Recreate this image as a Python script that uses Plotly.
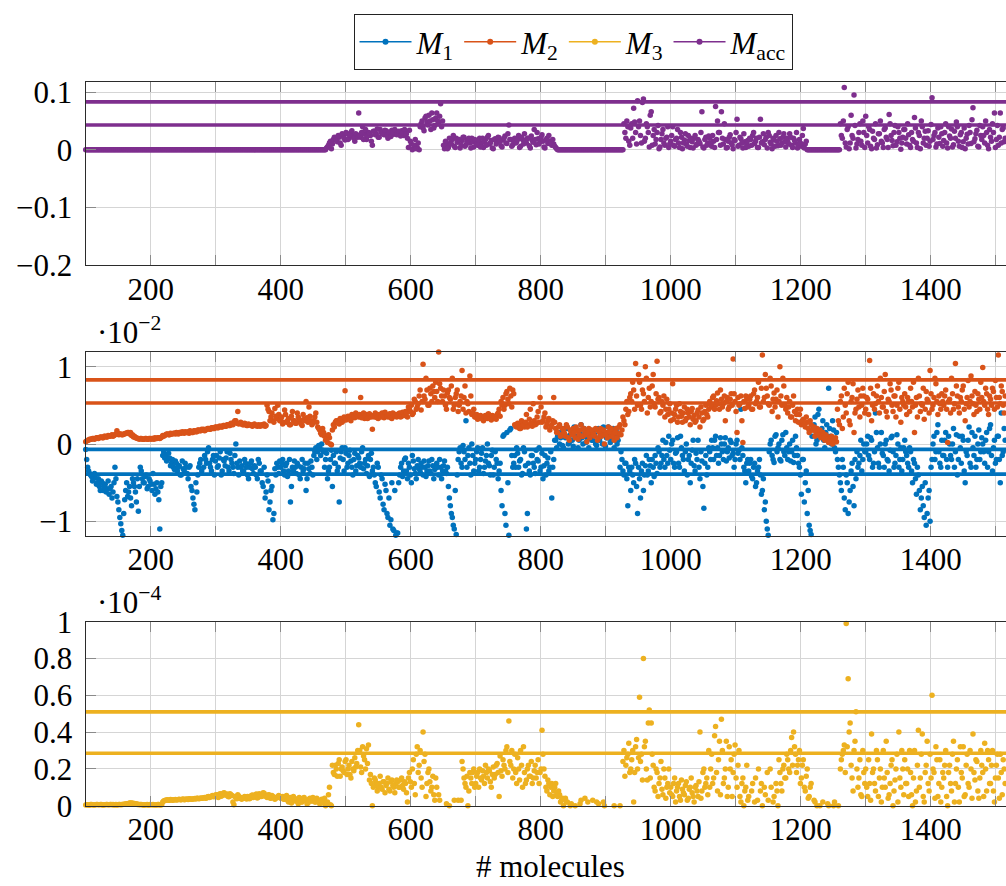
import plotly.graph_objects as go

# Molecule counts: main samples every 3 molecules from 100, a second
# interleaved sample set sits 1.5 molecules to the right.
X_START = 100
X_STEP = 3
X_OFFSET_B = 1.5

# M1 estimator error (units of 10^-2)
M1 = [
    -0.07, -0.3, -0.38, -0.42, -0.45, -0.4, -0.5, -0.55, -0.48, -0.6, -0.52, -0.58, -0.65, -0.55, -0.62, -0.3, -0.68, -0.85, -1.03, -1.18,
    -0.72, -0.5, -0.62, -0.7, -0.45, -0.55, -0.75, -0.87, -0.3, -0.45, -0.5, -0.4, -0.55, -0.48, -0.6, -0.52, -0.58, -0.62, -1.1, -0.5,
    -0.1, -0.15, -0.2, -0.18, -0.25, -0.3, -0.22, -0.35, -0.28, -0.4, -0.32, -0.25, -0.38, -0.3, -0.55, -0.7, -0.85, -0.62, -0.3, -0.2,
    -1.2, -0.15, -0.25, -0.05, -0.3, -0.2, -0.4, -0.15, -0.28, -0.1, -0.35, -0.22, -0.18, -0.3, -0.12, -0.25, -0.38, 0.0, -0.3, -0.22,
    -0.28, -0.35, -0.25, -0.4, -0.3, -0.22, -0.38, -0.3, -0.45, -0.25, -0.35, -0.55, -0.7, -0.4, -0.85, -0.6, -0.98, -0.32, -0.25, -0.38,
    -0.3, -0.2, -0.4, -0.25, -0.35, -0.75, -0.3, -0.22, -0.38, -0.28, -0.45, -0.2, -0.32, -0.6, -0.25, -0.38, -0.3, -0.15, -0.05, -0.1,
    -0.05, 0.0, -0.1, -0.2, -0.45, -0.3, -0.08, -0.15, -0.25, -0.35, -0.75, -0.1, -0.2, -0.05, -0.3, -0.15, -0.22, -0.4, -0.12, -0.28,
    -0.18, -0.3, -0.05, -0.25, -0.38, -0.15, -0.2, -0.35, -0.4, -0.55, -0.3, -0.7, -0.45, -0.85, -0.6, -0.95, -1.05, -0.5, -1.12, -1.18,
    -1.15, -0.4, -0.25, -0.35, -0.18, -0.45, -0.3, -0.5, -0.22, -0.38, -0.28, -0.32, -0.25, -0.4, -0.3, -0.35, -0.22, -0.38, -0.28, -0.33,
    -0.25, -0.4, -0.3, -0.35, -0.22, -0.38, -0.55, -0.8, -0.95, -1.1, -1.17, -0.2, -0.05, -0.3, -0.1, 0.3, -0.15, -0.25, 0.0, -0.35,
    -0.2, -0.05, -0.3, -0.12, -0.38, -0.22, 0.0, -0.28, -0.15, -0.4, -0.1, -0.25, -0.35, -0.6, 0.1, -0.9, 0.15, -1.18, 0.2, -0.3,
    -0.15, -0.05, -0.3, -0.2, -0.38, -0.1, -1.1, -0.25, -0.4, -0.15, -0.3, -0.08, -0.22, -0.35, -0.12, -0.28, -0.4, -0.18, -0.3, -0.7,
    -0.2, 0.05, 0.1, 0.0, 0.15, -0.05, 0.08, 0.2, 0.02, 0.12, -0.03, 0.1, 0.18, 0.05, 0.25, 0.0, 0.12, 0.08, -0.05, 0.15,
    0.05, 0.12, -0.02, 0.2, 0.1, 0.0, 0.15, 0.08, 0.22, 0.02, 0.1, -0.05, 0.18, 0.05, -0.3, -0.2, -0.4, -0.25, -0.8, -0.35,
    -0.3, -0.5, -0.25, -0.9, -0.45, -0.35, -0.6, -0.28, -0.4, -0.2, -0.5, -0.3, -0.15, -0.38, -0.1, -0.25, 0.05, -0.3, -0.15, 0.1,
    -0.2, 0.05, -0.3, -0.1, -0.25, 0.1, -0.15, -0.35, 0.0, -0.2, -0.5, -0.08, -0.28, -0.12, 0.05, -0.45, -0.22, -0.83, -0.15, -0.3,
    -0.1, 0.05, -0.2, 0.1, -0.05, -0.15, 0.0, -0.2, 0.08, -0.1, -0.18, 0.02, -0.12, -0.2, 0.05, -0.08, 0.45, -0.15, -0.35, -0.25,
    -0.35, -0.2, -0.45, -0.25, -0.5, -0.3, -0.4, -0.6, -0.85, -1.0, -1.18, 0.0, -0.15, -0.24, 0.12, -0.05, -0.2, 0.05, -0.1, 0.15,
    -0.2, 0.0, -0.1, -0.24, 0.1, -0.15, -0.3, -0.65, -0.2, -0.5, -0.9, -1.05, -1.17, 0.2, 0.35, 0.05, 0.45, 0.15, 0.3, -0.05,
    0.25, 0.72, 0.1, 0.3, -0.05, 0.15, -0.3, -0.5, -0.2, -0.7, -0.4, -0.9, -0.6, -0.25, -0.8, -0.45, -0.3, -0.15, -0.35, 0.0,
    -0.1, 0.1, -0.2, 0.05, -0.25, 0.4, -0.05, -0.3, 0.15, -0.15, 0.0, -0.2, -0.35, 0.08, -0.1, -0.25, 0.12, -0.3, -0.05, -0.2,
    0.05, -0.15, -0.3, -0.1, -0.5, -0.25, -0.65, -0.4, -0.85, -0.55, -0.95, -1.05, -0.7, -1.0, -0.2, 0.1, -0.1, 0.25, -0.25, 0.05,
    -0.15, 0.15, -0.3, 0.0, -0.2, 0.2, -0.1, -0.4, 0.1, -0.25, 0.05, -0.5, -0.15, 0.22, -0.3, -0.05, 0.1, -0.2, 0.18, -0.1,
    0.0, -0.25, 0.15, -0.1, 0.25, -0.35, 0.05, -0.2, 0.1, -0.5, -0.15, 0.2, -0.3,
]
M1_B = [
    -0.2, -0.35, -0.4, -0.48, -0.38, -0.52, -0.45, -0.6, -0.5, -0.55, -0.62, -0.48, -0.58, -0.7, -0.5, -0.45, -0.75, -0.95, -1.12, -0.9,
    -0.6, -0.68, -0.55, -0.8, -0.5, -0.62, -0.45, -0.55, -0.35, -0.5, -0.42, -0.58, -0.45, -0.52, -0.38, -0.65, -0.5, -0.72, -0.55, -0.15,
    -0.18, -0.22, -0.12, -0.28, -0.2, -0.33, -0.25, -0.3, -0.4, -0.22, -0.35, -0.3, -0.45, -0.28, -0.6, -0.78, -0.5, -0.4, -0.25, -0.35,
    -0.3, -0.2, -0.1, -0.25, -0.35, -0.15, -0.22, -0.3, -0.18, -0.4, -0.2, -0.28, -0.1, -0.35, -0.2, -0.3, -0.15, -0.25, -0.4, -0.3,
    -0.35, -0.2, -0.3, -0.45, -0.25, -0.32, -0.28, -0.4, -0.2, -0.35, -0.5, -0.3, -0.62, -0.48, -0.75, -0.55, -0.9, -0.4, -0.3, -0.22,
    -0.25, -0.35, -0.28, -0.42, -0.2, -0.55, -0.35, -0.3, -0.25, -0.4, -0.3, -0.35, -0.25, -0.45, -0.32, -0.22, -0.4, -0.1, -0.2, -0.02,
    -0.15, -0.08, -0.3, -0.12, -0.35, -0.2, -0.55, -0.25, -0.1, -0.3, -0.18, -0.05, -0.35, -0.12, -0.25, -0.08, -0.3, -0.2, -0.35, -0.15,
    -0.25, -0.1, -0.32, -0.2, -0.28, -0.42, -0.12, -0.3, -0.5, -0.25, -0.62, -0.4, -0.78, -0.52, -0.9, -0.7, -0.98, -1.1, -0.6, -1.15,
    -0.5, -0.3, -0.42, -0.2, -0.35, -0.25, -0.4, -0.15, -0.32, -0.45, -0.2, -0.36, -0.3, -0.22, -0.42, -0.28, -0.35, -0.2, -0.45, -0.3,
    -0.3, -0.2, -0.45, -0.28, -0.35, -0.3, -0.7, -0.9, -1.05, -0.6, -0.4, -0.1, -0.25, -0.02, -0.2, -0.3, -0.05, -0.4, -0.15, -0.25,
    -0.1, -0.35, -0.2, -0.05, -0.3, -0.15, -0.25, -0.4, -0.08, -0.3, -0.2, -0.45, -0.25, -0.8, 0.12, -1.05, -0.5, 0.18, -0.15, -0.25,
    -0.3, -0.12, -0.22, -0.4, -0.05, -0.28, -0.9, -0.35, -0.15, -0.25, -0.38, -0.2, -0.05, -0.3, -0.45, -0.15, -0.25, -0.35, -0.1, -0.3,
    0.05, -0.05, 0.15, 0.08, -0.02, 0.2, 0.1, 0.0, 0.12, 0.05, 0.22, 0.1, -0.05, 0.15, 0.08, 0.2, 0.02, 0.1, 0.18, 0.05,
    0.1, 0.0, 0.18, 0.05, 0.12, 0.22, -0.03, 0.08, 0.15, 0.05, 0.2, 0.1, 0.0, 0.12, -0.1, -0.35, -0.25, -0.45, -0.3, -0.6,
    -0.4, -0.2, -0.55, -0.3, -0.7, -0.25, -0.4, -0.15, -0.35, -0.28, -0.2, -0.42, -0.25, -0.05, -0.3, -0.15, -0.2, 0.02, -0.25, -0.08,
    0.0, -0.25, -0.12, 0.08, -0.3, -0.05, -0.2, -0.1, -0.4, -0.15, -0.25, 0.05, -0.35, -0.2, -0.3, -0.1, -0.55, -0.25, -0.4, -0.05,
    -0.2, -0.05, 0.05, -0.15, -0.25, 0.08, -0.1, 0.0, -0.22, -0.05, 0.05, -0.15, -0.3, 0.0, -0.12, -0.2, -0.05, -0.3, -0.5, -0.2,
    -0.25, -0.42, -0.3, -0.55, -0.35, -0.2, -0.65, -0.45, -0.75, -1.1, -0.1, 0.05, -0.2, 0.1, -0.1, 0.0, -0.22, 0.12, -0.15, -0.05,
    -0.1, -0.22, 0.05, -0.15, -0.05, -0.25, -0.4, -0.2, -0.75, -0.35, -0.6, -1.12, 0.1, 0.25, 0.0, 0.38, 0.1, 0.2, 0.05, 0.15,
    0.1, 0.2, 0.0, 0.18, -0.1, -0.2, -0.4, -0.6, -0.3, -0.85, -0.5, -0.75, -0.35, -0.55, -0.2, -0.1, -0.25, 0.05, -0.2, -0.1,
    0.0, -0.15, 0.08, -0.3, -0.1, 0.15, -0.25, 0.0, -0.12, -0.3, 0.05, -0.22, -0.08, 0.1, -0.3, -0.15, 0.0, -0.2, -0.35, -0.05,
    -0.1, -0.25, -0.05, -0.35, -0.2, -0.45, -0.3, -0.6, -0.7, -0.8, -0.5, -0.9, -0.6, -0.3, 0.0, -0.2, 0.15, -0.1, -0.3, -0.15,
    0.05, -0.2, 0.1, -0.15, 0.0, -0.3, 0.12, -0.2, -0.05, 0.1, -0.35, -0.1, 0.05, -0.25, 0.15, -0.15, -0.3, 0.0, -0.2, 0.08,
    -0.1, 0.05, -0.3, 0.2, -0.15, -0.05, -0.25, 0.1, -0.2, 0.4, -0.1, 0.05,
]

# M2 estimator error (units of 10^-2)
M2 = [
    0.03, 0.05, 0.06, 0.06, 0.07, 0.07, 0.08, 0.08, 0.09, 0.08, 0.1, 0.09, 0.1, 0.11, 0.1, 0.12, 0.17, 0.12, 0.13, 0.12,
    0.13, 0.14, 0.15, 0.15, 0.12, 0.1, 0.08, 0.07, 0.07, 0.06, 0.06, 0.07, 0.06, 0.07, 0.07, 0.06, 0.07, 0.08, 0.07, 0.09,
    0.1, 0.12, 0.13, 0.12, 0.13, 0.14, 0.13, 0.14, 0.15, 0.14, 0.15, 0.16, 0.15, 0.14, 0.16, 0.15, 0.17, 0.16, 0.18, 0.17,
    0.18, 0.17, 0.19, 0.2, 0.19, 0.21, 0.2, 0.22, 0.21, 0.23, 0.22, 0.24, 0.23, 0.25, 0.24, 0.26, 0.28, 0.3, 0.42, 0.27,
    0.26, 0.25, 0.26, 0.24, 0.25, 0.24, 0.25, 0.24, 0.23, 0.24, 0.25, 0.24, 0.23, 0.5, 0.42, 0.35, 0.3, 0.46, 0.33, 0.38,
    0.3, 0.26, 0.44, 0.28, 0.33, 0.25, 0.42, 0.3, 0.27, 0.35, 0.3, 0.24, 0.32, 0.55, 0.28, 0.36, 0.25, 0.3, 0.4, 0.22,
    0.18, 0.12, 0.15, 0.05, 0.02, 0.08, -0.01, 0.25, 0.28, 0.3, 0.26, 0.32, 0.3, 0.69, 0.33, 0.35, 0.3, 0.37, 0.34, 0.38,
    0.35, 0.6, 0.36, 0.33, 0.38, 0.34, 0.37, 0.19, 0.35, 0.38, 0.33, 0.36, 0.4, 0.34, 0.37, 0.35, 0.39, 0.33, 0.36, 0.38,
    0.37, 0.4, 0.36, 0.38, 0.42, 0.35, 0.45, 0.5, 0.4, 0.55, 0.48, 0.62, 0.44, 1.03, 0.58, 0.7, 0.5, 0.65, 0.75, 0.6,
    0.68, 1.19, 0.72, 0.55, 0.62, 0.45, 0.7, 0.58, 0.85, 0.5, 0.65, 0.42, 0.55, 0.95, 0.6, 0.4, 0.52, 0.88, 0.38, 0.45,
    0.35, 0.32, 0.36, 0.34, 0.3, 0.37, 0.33, 0.35, 0.31, 0.36, 0.34, 0.38, 0.45, 0.55, 0.6, 0.5, 0.68, 0.52, 0.62, 0.7,
    0.25, 0.22, 0.26, 0.2, 0.24, 0.22, 0.38, 0.25, 0.45, 0.23, 0.3, 0.26, 0.42, 0.6, 0.28, 0.35, 0.22, 0.3, 0.18, 0.25,
    0.6, 0.2, 0.15, 0.25, 0.12, 0.18, 0.1, 0.22, 0.05, 0.15, 0.2, 0.08, 0.17, 0.12, 0.25, 0.1, 0.16, 0.03, 0.2, 0.13,
    0.15, 0.1, 0.18, 0.08, 0.2, 0.12, 0.0, 0.15, 0.22, 0.1, 0.16, 0.05, 0.2, 0.14, 0.25, 0.18, 0.3, 0.45, 0.38, 0.6,
    0.55, 0.7, 1.04, 0.5, 0.8, 0.45, 0.65, 1.0, 0.4, 0.72, 0.55, 0.9, 0.48, 1.07, 0.6, 0.42, 0.5, 0.35, 0.58, 0.45,
    0.3, 0.78, 0.38, 0.5, 0.35, 0.42, 0.28, 0.48, 0.33, 0.4, 0.25, 0.46, 0.37, 0.3, 0.44, 0.22, 0.4, 0.32, 0.5, 0.35,
    0.55, 0.48, 0.62, 0.5, 0.66, 0.45, 0.58, 0.52, 0.3, 0.6, 0.48, 0.65, 1.1, 0.55, 0.15, 0.5, 0.62, 0.02, 0.46, 0.58,
    0.5, 0.62, 0.45, 0.7, 0.55, 0.8, 0.48, 1.15, 0.6, 0.72, 0.52, 0.85, 0.42, 0.66, 0.58, 0.35, 1.0, 0.5, 0.75, 0.45,
    0.4, 0.55, 0.35, 0.62, 0.3, 0.45, 0.38, 0.25, 0.32, 0.22, 0.28, 0.15, 0.25, 0.18, 0.1, 0.2, 0.12, 0.08, 0.15, 0.05,
    0.1, 0.02, 0.07, 0.0, 0.05, 0.03, 0.3, 0.55, 0.2, 0.72, 0.4, 0.8, 0.25, 0.6, 0.15, 0.45, 0.7, 0.35, 0.5, 0.62,
    0.45, 0.58, 1.08, 0.3, 0.65, 0.52, 0.75, 0.4, 0.6, 0.48, 0.9, 0.35, 0.55, 0.7, 0.42, 0.62, 0.5, 0.8, 0.28, 0.55,
    0.65, 0.38, 0.55, 0.72, 0.48, 0.15, 0.6, 0.85, 0.42, 0.5, 0.32, 0.68, 0.55, 0.95, 0.45, 0.6, 0.78, 0.38, 0.52, 0.65,
    0.5, 0.7, 0.02, 0.58, 0.85, 0.45, 1.04, 0.62, 0.4, 0.55, 0.75, 0.3, 0.6, 0.48, 0.88, 0.52, 0.68, 0.42, 0.58, 0.8,
    0.99, 0.5, 0.65, 0.38, 0.58, 0.72, 0.45, 0.6, 1.15, 0.52, 0.68, 0.4, 0.55,
]
M2_B = [
    0.04, 0.05, 0.06, 0.07, 0.06, 0.08, 0.07, 0.09, 0.08, 0.1, 0.09, 0.11, 0.1, 0.12, 0.11, 0.13, 0.14, 0.13, 0.12, 0.13,
    0.14, 0.15, 0.13, 0.11, 0.09, 0.08, 0.07, 0.06, 0.07, 0.06, 0.07, 0.06, 0.07, 0.06, 0.07, 0.08, 0.07, 0.08, 0.08, 0.11,
    0.11, 0.13, 0.12, 0.14, 0.13, 0.14, 0.15, 0.13, 0.15, 0.16, 0.14, 0.15, 0.16, 0.17, 0.15, 0.17, 0.16, 0.18, 0.17, 0.19,
    0.19, 0.18, 0.2, 0.19, 0.21, 0.2, 0.22, 0.21, 0.23, 0.22, 0.24, 0.23, 0.25, 0.24, 0.27, 0.25, 0.3, 0.27, 0.26, 0.28,
    0.25, 0.27, 0.24, 0.26, 0.25, 0.23, 0.26, 0.24, 0.25, 0.23, 0.24, 0.26, 0.24, 0.45, 0.3, 0.4, 0.28, 0.36, 0.5, 0.3,
    0.35, 0.28, 0.38, 0.3, 0.25, 0.36, 0.3, 0.27, 0.4, 0.32, 0.26, 0.38, 0.3, 0.34, 0.48, 0.3, 0.27, 0.35, 0.28, 0.2,
    0.14, 0.2, 0.1, 0.06, 0.12, 0.0, 0.18, 0.22, 0.3, 0.27, 0.33, 0.28, 0.35, 0.31, 0.36, 0.32, 0.38, 0.35, 0.4, 0.36,
    0.38, 0.34, 0.4, 0.36, 0.33, 0.39, 0.35, 0.37, 0.4, 0.34, 0.38, 0.35, 0.37, 0.41, 0.36, 0.38, 0.34, 0.4, 0.37, 0.35,
    0.39, 0.35, 0.41, 0.37, 0.4, 0.48, 0.42, 0.38, 0.58, 0.45, 0.52, 0.7, 0.55, 0.62, 0.85, 0.5, 0.72, 0.55, 0.68, 0.8,
    0.55, 0.78, 0.62, 0.7, 0.5, 0.66, 0.6, 0.75, 0.45, 0.6, 0.7, 0.5, 0.62, 0.45, 0.75, 0.55, 0.42, 0.62, 0.4, 0.35,
    0.38, 0.34, 0.37, 0.32, 0.36, 0.34, 0.39, 0.33, 0.37, 0.35, 0.32, 0.4, 0.36, 0.5, 0.45, 0.65, 0.58, 0.72, 0.48, 0.65,
    0.23, 0.27, 0.2, 0.3, 0.25, 0.28, 0.22, 0.32, 0.27, 0.52, 0.25, 0.35, 0.28, 0.48, 0.3, 0.4, 0.26, 0.33, 0.22, 0.3,
    0.28, 0.15, 0.22, 0.1, 0.2, 0.14, 0.25, 0.08, 0.18, 0.12, 0.15, 0.22, 0.06, 0.18, 0.1, 0.2, 0.12, 0.15, 0.08, 0.18,
    0.12, 0.2, 0.05, 0.15, 0.1, 0.18, 0.12, 0.08, 0.16, 0.2, 0.1, 0.15, 0.08, 0.22, 0.12, 0.35, 0.25, 0.55, 0.42, 0.65,
    0.8, 0.45, 0.62, 0.9, 0.5, 0.7, 0.55, 0.85, 0.6, 0.48, 0.75, 0.52, 0.65, 0.58, 0.4, 0.55, 0.62, 0.45, 0.38, 0.52,
    0.4, 0.32, 0.45, 0.28, 0.52, 0.36, 0.4, 0.3, 0.45, 0.35, 0.42, 0.32, 0.28, 0.4, 0.35, 0.48, 0.3, 0.42, 0.38, 0.45,
    0.5, 0.6, 0.45, 0.56, 0.52, 0.7, 0.48, 0.62, 0.55, 0.45, 0.58, 0.5, 0.65, 0.42, 0.6, 0.52, 0.3, 0.55, 0.62, 0.48,
    0.58, 0.45, 0.65, 0.52, 0.6, 0.48, 0.72, 0.55, 0.9, 0.62, 0.5, 0.75, 0.58, 0.48, 0.7, 0.55, 0.62, 0.85, 0.5, 0.6,
    0.48, 0.35, 0.5, 0.42, 0.38, 0.28, 0.45, 0.3, 0.25, 0.35, 0.2, 0.3, 0.18, 0.22, 0.15, 0.12, 0.18, 0.1, 0.08, 0.12,
    0.06, 0.04, 0.1, 0.02, 0.08, 0.45, 0.25, 0.62, 0.35, 0.5, 0.65, 0.3, 0.55, 0.78, 0.4, 0.58, 0.48, 0.62, 0.72, 0.4,
    0.6, 0.38, 0.72, 0.5, 0.45, 0.62, 0.55, 0.85, 0.48, 0.68, 0.42, 0.58, 0.78, 0.5, 0.62, 0.35, 0.72, 0.45, 0.6, 0.5,
    0.48, 0.6, 0.42, 0.55, 0.8, 0.5, 0.35, 0.62, 0.52, 0.72, 0.45, 0.58, 0.4, 0.65, 0.5, 0.85, 0.55, 0.62, 0.45, 0.55,
    0.62, 0.45, 0.55, 0.4, 0.65, 0.52, 0.75, 0.48, 0.6, 0.7, 0.45, 0.52, 0.82, 0.55, 0.62, 0.38, 0.5, 0.65, 0.45, 0.6,
    0.55, 0.72, 0.45, 0.62, 0.5, 0.68, 0.82, 0.48, 0.6, 0.75, 0.5, 0.62,
]

# M3 estimator error (units of 10^-4); None where no estimate is shown
M3 = [
    0.004, 0.005, 0.003, 0.006, 0.004, 0.005, 0.007, 0.005, 0.006, 0.004, 0.005, 0.006, 0.005, 0.007, 0.006, 0.005, 0.004, 0.006, 0.005, 0.007,
    0.008, 0.01, 0.012, 0.015, 0.014, 0.012, 0.01, 0.008, 0.006, 0.005, 0.004, 0.005, 0.004, 0.006, 0.005, 0.004, 0.005, 0.006, 0.004, 0.005,
    0.025, 0.03, 0.032, 0.03, 0.033, 0.031, 0.034, 0.032, 0.035, 0.033, 0.036, 0.034, 0.035, 0.038, 0.036, 0.037, 0.039, 0.04, 0.038, 0.042,
    0.04, 0.045, 0.042, 0.05, 0.047, 0.055, 0.05, 0.06, 0.045, 0.065, 0.055, 0.07, 0.06, 0.05, 0.065, 0.055, 0.005, 0.045, 0.06, 0.04,
    0.035, 0.045, 0.04, 0.05, 0.038, 0.055, 0.045, 0.06, 0.042, 0.065, 0.05, 0.07, 0.055, 0.045, 0.06, 0.04, 0.05, 0.035, 0.045, 0.055,
    0.04, 0.05, 0.035, 0.055, 0.02, 0.045, 0.03, 0.04, 0.025, 0.01, 0.035, 0.02, 0.045, 0.03, 0.015, 0.04, 0.025, 0.035, 0.02, 0.03,
    0.01, 0.035, 0.02, 0.0, 0.02, 0.1, 0.0, 0.18, 0.22, 0.16, 0.25, 0.2, 0.19, 0.24, 0.17, 0.22, 0.15, 0.2, 0.26, 0.23,
    0.44, 0.21, 0.32, 0.25, 0.31, 0.33, 0.17, 0.0, 0.15, 0.12, 0.1, 0.16, 0.09, 0.13, 0.11, 0.15, 0.08, 0.14, 0.1, 0.12,
    0.13, 0.1, 0.15, 0.09, 0.12, 0.02, 0.18, 0.1, 0.25, 0.06, 0.32, 0.22, 0.15, 0.4, 0.28, 0.12, 0.2, 0.08, 0.16, 0.03,
    0.1, 0.06, None, None, None, 0.01, None, None, None, 0.03, None, 0.03, None, 0.24, 0.15, 0.1, 0.0, 0.18, 0.12, 0.2,
    0.12, 0.18, 0.2, 0.14, 0.16, 0.22, 0.15, 0.19, 0.1, 0.21, 0.17, 0.23, 0.05, 0.19, 0.25, 0.2, 0.32, 0.46, 0.22, 0.15,
    0.28, 0.12, 0.2, 0.3, 0.1, 0.18, 0.14, 0.22, 0.16, 0.12, 0.19, 0.15, 0.25, 0.18, 0.41, 0.2, 0.1, 0.14, 0.06, 0.12,
    0.08, 0.12, 0.05, 0.06, 0.03, 0.0, 0.04, 0.02, None, 0.01, None, 0.0, None, None, 0.03, None, 0.04, None, None, None,
    0.03, None, 0.02, 0.01, None, None, 0.0, None, None, None, None, 0.0, None, None, 0.0, None, 0.3, 0.22, 0.28, 0.18,
    0.25, 0.02, 0.32, 0.2, 0.59, 0.28, 0.8, 0.35, 0.14, 0.52, 0.45, 0.22, 0.08, 0.18, 0.12, 0.24, 0.06, 0.15, 0.1, 0.2,
    0.1, 0.05, 0.15, 0.08, 0.12, 0.03, 0.09, 0.06, 0.13, 0.04, 0.1, 0.07, 0.02, 0.11, 0.05, 0.4, 0.08, 0.2, 0.12, 0.06,
    0.1, 0.28, 0.15, 0.43, 0.08, 0.35, 0.47, 0.12, 0.2, 0.05, 0.32, 0.25, 0.18, 0.33, 0.1, 0.3, 0.02, 0.15, 0.08, 0.22,
    0.05, None, 0.12, 0.02, None, 0.2, 0.08, 0.0, 0.1, None, 0.03, 0.2, None, 0.05, 0.12, 0.0, 0.18, 0.08, 0.22, 0.15,
    0.25, 0.18, 0.37, 0.4, 0.28, 0.22, 0.3, 0.15, 0.25, 0.08, 0.2, 0.05, 0.12, None, 0.02, 0.0, None, None, 0.02, None,
    None, 0.0, None, None, 0.02, None, 0.0, 0.2, 0.28, 0.33, 0.99, 0.69, 0.45, 0.15, 0.3, 0.51, 0.1, 0.25, 0.05, 0.18,
    0.2, 0.05, 0.12, 0.39, 0.2, 0.08, 0.25, 0.15, 0.02, 0.3, 0.1, 0.18, 0.06, 0.22, 0.0, 0.14, 0.28, 0.4, 0.1, 0.2,
    0.25, 0.12, 0.05, 0.18, 0.0, 0.3, 0.08, 0.41, 0.15, 0.39, 0.02, 0.22, 0.12, 0.28, 0.6, 0.18, 0.32, 0.05, 0.25, 0.1,
    0.15, 0.3, 0.0, 0.22, 0.08, 0.35, 0.12, 0.25, 0.02, 0.18, 0.32, 0.06, 0.28, 0.1, 0.2, 0.39, 0.14, 0.24, 0.04, 0.3,
    0.18, 0.34, 0.08, 0.25, 0.12, 0.3, 0.02, 0.22, 0.15, 0.28, 0.06, 0.2, 0.1,
]
M3_B = [
    0.005, 0.004, 0.006, 0.005, 0.004, 0.006, 0.005, 0.006, 0.004, 0.005, 0.007, 0.005, 0.006, 0.005, 0.004, 0.006, 0.005, 0.007, 0.006, 0.008,
    0.009, 0.011, 0.014, 0.013, 0.011, 0.009, 0.007, 0.005, 0.006, 0.004, 0.005, 0.006, 0.004, 0.005, 0.006, 0.005, 0.004, 0.006, 0.005, 0.02,
    0.028, 0.031, 0.03, 0.034, 0.03, 0.033, 0.031, 0.034, 0.032, 0.035, 0.033, 0.036, 0.034, 0.037, 0.035, 0.038, 0.036, 0.04, 0.039, 0.041,
    0.043, 0.04, 0.048, 0.044, 0.052, 0.048, 0.058, 0.05, 0.062, 0.052, 0.068, 0.058, 0.064, 0.048, 0.06, 0.02, 0.05, 0.038, 0.052, 0.045,
    0.04, 0.05, 0.036, 0.048, 0.042, 0.058, 0.05, 0.064, 0.046, 0.06, 0.052, 0.068, 0.05, 0.058, 0.042, 0.055, 0.045, 0.04, 0.05, 0.045,
    0.045, 0.035, 0.05, 0.03, 0.04, 0.015, 0.05, 0.025, 0.035, 0.045, 0.02, 0.04, 0.03, 0.01, 0.035, 0.025, 0.045, 0.02, 0.04, 0.025,
    0.03, 0.015, 0.04, 0.01, 0.06, 0.005, 0.22, 0.17, 0.2, 0.23, 0.16, 0.21, 0.18, 0.25, 0.2, 0.17, 0.24, 0.19, 0.21, 0.3,
    0.3, 0.18, 0.27, 0.2, 0.23, 0.14, 0.12, 0.1, 0.14, 0.08, 0.12, 0.1, 0.13, 0.07, 0.12, 0.09, 0.13, 0.11, 0.07, 0.14,
    0.1, 0.14, 0.11, 0.13, 0.07, 0.15, 0.13, 0.2, 0.12, 0.28, 0.18, 0.3, 0.1, 0.24, 0.05, 0.18, 0.13, 0.1, 0.06, 0.15,
    None, 0.03, None, None, None, None, 0.0, None, None, None, None, None, 0.03, 0.2, 0.12, 0.16, 0.08, 0.15, 0.18, 0.1,
    0.16, 0.1, 0.15, 0.19, 0.12, 0.18, 0.2, 0.13, 0.17, 0.15, 0.22, 0.18, 0.27, 0.16, 0.22, 0.3, 0.18, 0.24, 0.3, 0.2,
    0.18, 0.26, 0.14, 0.22, 0.32, 0.12, 0.2, 0.16, 0.24, 0.15, 0.22, 0.18, 0.12, 0.2, 0.28, 0.16, 0.08, 0.12, 0.1, 0.05,
    0.1, 0.06, 0.08, 0.02, 0.04, None, 0.02, None, 0.0, None, None, None, None, 0.01, None, None, None, 0.02, None, None,
    None, None, None, None, None, 0.02, None, None, None, None, None, None, None, None, None, 0.24, 0.16, 0.26, 0.34, 0.2,
    0.3, 0.18, 0.36, 0.26, 0.24, 0.14, 0.32, 0.2, 0.45, 0.15, 0.28, 0.1, 0.2, 0.05, 0.15, 0.09, 0.2, 0.04, 0.12, 0.07,
    0.06, 0.12, 0.02, 0.1, 0.05, 0.14, 0.07, 0.11, 0.03, 0.09, 0.15, 0.05, 0.1, 0.08, 0.13, 0.04, 0.18, 0.1, 0.15, 0.3,
    0.2, 0.12, 0.38, 0.18, 0.25, 0.06, 0.3, 0.15, 0.35, 0.1, 0.2, 0.05, 0.28, 0.15, 0.22, 0.05, 0.12, 0.0, 0.1, 0.03,
    None, 0.08, None, 0.15, 0.03, None, 0.12, None, 0.06, 0.18, None, 0.1, 0.02, None, 0.08, 0.25, 0.12, 0.2, 0.15, 0.28,
    0.2, 0.3, 0.22, 0.32, 0.18, 0.25, 0.12, 0.22, 0.1, 0.16, 0.04, 0.1, None, 0.03, None, None, 0.0, None, None, None,
    0.01, None, None, 0.0, None, None, None, 0.25, 0.3, 0.18, 0.32, 0.4, 0.22, 0.08, 0.35, 0.2, 0.15, 0.06, 0.3, 0.12,
    0.1, 0.25, 0.03, 0.18, 0.12, 0.3, 0.05, 0.2, 0.1, 0.15, 0.35, 0.04, 0.12, 0.25, 0.08, 0.2, 0.02, 0.15, 0.3, 0.06,
    0.12, 0.2, 0.3, 0.06, 0.15, 0.02, 0.22, 0.1, 0.28, 0.05, 0.18, 0.35, 0.08, 0.15, 0.2, 0.04, 0.25, 0.12, 0.02, 0.18,
    0.22, 0.05, 0.18, 0.12, 0.28, 0.02, 0.2, 0.1, 0.32, 0.15, 0.05, 0.22, 0.12, 0.3, 0.04, 0.18, 0.25, 0.08, 0.15, 0.22,
    0.05, 0.2, 0.3, 0.12, 0.22, 0.08, 0.15, 0.28, 0.04, 0.18, 0.25, 0.12,
]

# Accumulated estimator error
M_ACC = [
    0, 0, 0, 0, 0, 0, 0, 0, 0, 0, 0, 0, 0, 0, 0, 0, 0, 0, 0, 0,
    0, 0, 0, 0, 0, 0, 0, 0, 0, 0, 0, 0, 0, 0, 0, 0, 0, 0, 0, 0,
    0, 0, 0, 0, 0, 0, 0, 0, 0, 0, 0, 0, 0, 0, 0, 0, 0, 0, 0, 0,
    0, 0, 0, 0, 0, 0, 0, 0, 0, 0, 0, 0, 0, 0, 0, 0, 0, 0, 0, 0,
    0, 0, 0, 0, 0, 0, 0, 0, 0, 0, 0, 0, 0, 0, 0, 0, 0, 0, 0, 0,
    0, 0, 0, 0, 0, 0, 0, 0, 0, 0, 0, 0, 0, 0, 0, 0, 0, 0, 0, 0,
    0, 0, 0, 0, 0.005, 0.012, 0.002, 0.018, 0.02, 0.014, 0.022, 0.008, 0.025, 0.017, 0.028, 0.02, 0.03, 0.024, 0.015, 0.026,
    0.064, 0.022, 0.04, 0.027, 0.018, 0.03, 0.025, 0.008, 0.032, 0.028, 0.022, 0.035, 0.03, 0.026, 0.033, 0.02, 0.029, 0.034, 0.027, 0.031,
    0.03, 0.027, 0.033, 0.025, 0.031, 0.02, 0.034, 0.01, 0.002, 0.018, 0.004, 0.0, 0.045, 0.038, 0.055, 0.048, 0.06, 0.035, 0.052, 0.042,
    0.064, 0.045, 0.08, 0.05, 0.002, 0.01, 0.004, 0.012, 0.018, 0.006, 0.02, 0.014, 0.003, 0.016, 0.022, 0.009, 0.017, 0.012, 0.02, 0.005,
    0.015, 0.008, 0.02, 0.012, 0.004, 0.018, 0.022, 0.01, 0.016, 0.002, 0.019, 0.013, 0.021, 0.007, 0.017, 0.024, 0.011, 0.043, 0.018, 0.009,
    0.02, 0.014, 0.025, 0.006, 0.018, 0.028, 0.012, 0.02, 0.003, 0.016, 0.035, 0.009, 0.019, 0.014, 0.026, 0.005, 0.017, 0.011, 0.015, 0.008,
    0.01, 0.004, 0, 0, 0, 0, 0, 0, 0, 0, 0, 0, 0, 0, 0, 0, 0, 0, 0, 0,
    0, 0, 0, 0, 0, 0, 0, 0, 0, 0, 0, 0, 0, 0, 0, 0, 0.045, 0.02, 0.04, 0.008,
    0.045, 0.072, 0.03, 0.085, 0.05, 0.012, 0.088, 0.02, 0.04, 0.005, 0.066, 0.025, 0.01, 0.03, 0.002, 0.018, 0.035, 0.008, 0.022, 0.004,
    0.015, 0.04, 0.006, 0.02, 0.012, 0.03, 0.002, 0.017, 0.01, 0.025, 0.004, 0.014, 0.02, 0.008, 0.018, 0.011, 0.066, 0.003, 0.022, 0.012,
    0.02, 0.006, 0.015, 0.075, 0.05, 0.03, 0.066, 0.01, 0.018, 0.004, 0.022, 0.012, 0.002, 0.016, 0.053, 0.008, 0.019, 0.003, 0.014, 0.01,
    0.006, 0.018, 0.025, 0.011, 0.02, 0.004, 0.053, 0.014, 0.009, 0.022, 0.03, 0.013, 0.002, 0.017, 0.025, 0.007, 0.019, 0.012, 0.028, 0.005,
    0.015, 0.028, 0.008, 0.02, 0.012, 0.003, 0.018, 0.006, 0.037, 0.01, 0, 0, 0, 0, 0, 0, 0, 0, 0, 0,
    0, 0, 0, 0, 0, 0, 0, 0.045, 0.02, 0.108, 0.005, 0.04, 0.012, 0.025, 0.095, 0.003, 0.018, 0.045, 0.008, 0.03,
    0.058, 0.012, 0.035, 0.002, 0.02, 0.045, 0.009, 0.028, 0.015, 0.004, 0.038, 0.018, 0.061, 0.025, 0.007, 0.042, 0.014, 0.03, 0.001, 0.022,
    0.035, 0.01, 0.026, 0.004, 0.018, 0.056, 0.012, 0.03, 0.002, 0.04, 0.02, 0.008, 0.033, 0.015, 0.09, 0.025, 0.005, 0.038, 0.011, 0.028,
    0.016, 0.045, 0.003, 0.024, 0.036, 0.009, 0.02, 0.04, 0.006, 0.03, 0.014, 0.002, 0.027, 0.042, 0.011, 0.073, 0.019, 0.034, 0.005, 0.025,
    0.04, 0.012, 0.03, 0.002, 0.022, 0.045, 0.064, 0.018, 0.008, 0.064, 0.035, 0.014, 0.05,
]
M_ACC_B = [
    0, 0, 0, 0, 0, 0, 0, 0, 0, 0, 0, 0, 0, 0, 0, 0, 0, 0, 0, 0,
    0, 0, 0, 0, 0, 0, 0, 0, 0, 0, 0, 0, 0, 0, 0, 0, 0, 0, 0, 0,
    0, 0, 0, 0, 0, 0, 0, 0, 0, 0, 0, 0, 0, 0, 0, 0, 0, 0, 0, 0,
    0, 0, 0, 0, 0, 0, 0, 0, 0, 0, 0, 0, 0, 0, 0, 0, 0, 0, 0, 0,
    0, 0, 0, 0, 0, 0, 0, 0, 0, 0, 0, 0, 0, 0, 0, 0, 0, 0, 0, 0,
    0, 0, 0, 0, 0, 0, 0, 0, 0, 0, 0, 0, 0, 0, 0, 0, 0, 0, 0, 0,
    0, 0, 0, 0.003, 0.008, 0.015, 0.01, 0.022, 0.016, 0.025, 0.012, 0.028, 0.02, 0.03, 0.018, 0.026, 0.033, 0.02, 0.028, 0.022,
    0.025, 0.03, 0.018, 0.035, 0.024, 0.029, 0.015, 0.032, 0.026, 0.036, 0.022, 0.03, 0.028, 0.034, 0.025, 0.031, 0.023, 0.03, 0.035, 0.026,
    0.032, 0.024, 0.029, 0.035, 0.028, 0.004, 0.015, 0.0, 0.008, 0.002, 0.012, 0.04, 0.05, 0.033, 0.058, 0.043, 0.05, 0.064, 0.038, 0.055,
    0.05, 0.058, 0.04, 0.008, 0.015, 0.002, 0.02, 0.01, 0.025, 0.004, 0.013, 0.018, 0.008, 0.022, 0.006, 0.015, 0.02, 0.003, 0.014, 0.018,
    0.01, 0.017, 0.005, 0.02, 0.014, 0.008, 0.025, 0.012, 0.003, 0.018, 0.01, 0.022, 0.015, 0.005, 0.02, 0.012, 0.028, 0.018, 0.006, 0.015,
    0.012, 0.018, 0.004, 0.022, 0.01, 0.016, 0.02, 0.007, 0.024, 0.013, 0.018, 0.03, 0.01, 0.022, 0.015, 0.003, 0.02, 0.025, 0.012, 0.018,
    0.006, 0.002, 0, 0, 0, 0, 0, 0, 0, 0, 0, 0, 0, 0, 0, 0, 0, 0, 0, 0,
    0, 0, 0, 0, 0, 0, 0, 0, 0, 0, 0, 0, 0, 0, 0, 0, 0.03, 0.05, 0.015, 0.038,
    0.02, 0.048, 0.01, 0.04, 0.025, 0.082, 0.015, 0.045, 0.03, 0.06, 0.008, 0.035, 0.018, 0.042, 0.005, 0.028, 0.012, 0.02, 0.04, 0.01,
    0.025, 0.008, 0.018, 0.035, 0.004, 0.022, 0.012, 0.028, 0.006, 0.016, 0.02, 0.003, 0.025, 0.01, 0.015, 0.03, 0.005, 0.018, 0.008, 0.024,
    0.012, 0.025, 0.004, 0.018, 0.03, 0.008, 0.02, 0.045, 0.003, 0.015, 0.026, 0.009, 0.018, 0.03, 0.006, 0.022, 0.012, 0.028, 0.004, 0.016,
    0.02, 0.008, 0.03, 0.015, 0.004, 0.022, 0.012, 0.028, 0.018, 0.003, 0.025, 0.01, 0.02, 0.006, 0.015, 0.03, 0.008, 0.022, 0.014, 0.02,
    0.01, 0.022, 0.004, 0.016, 0.03, 0.008, 0.012, 0.025, 0.003, 0.015, 0, 0, 0, 0, 0, 0, 0, 0, 0, 0,
    0, 0, 0, 0, 0, 0, 0, 0.025, 0.05, 0.012, 0.035, 0.002, 0.06, 0.02, 0.042, 0.01, 0.03, 0.015, 0.05, 0.004,
    0.025, 0.04, 0.006, 0.032, 0.018, 0.003, 0.028, 0.05, 0.012, 0.035, 0.022, 0.004, 0.045, 0.016, 0.03, 0.008, 0.04, 0.02, 0.012, 0.035,
    0.02, 0.045, 0.008, 0.03, 0.015, 0.038, 0.004, 0.025, 0.05, 0.012, 0.032, 0.02, 0.006, 0.044, 0.018, 0.03, 0.01, 0.022, 0.04, 0.006,
    0.03, 0.012, 0.04, 0.02, 0.005, 0.032, 0.048, 0.015, 0.026, 0.004, 0.038, 0.02, 0.01, 0.03, 0.052, 0.014, 0.028, 0.006, 0.042, 0.018,
    0.025, 0.05, 0.008, 0.035, 0.015, 0.03, 0.004, 0.042, 0.022, 0.012, 0.038, 0.02,
]

# Reference levels drawn as horizontal lines in each panel
M1_LEVELS = [-0.07, -0.39]
M2_LEVELS = [0.83, 0.53]
M3_LEVELS = [0.51, 0.285]
MACC_LEVELS = [0.083, 0.043]

COLORS = {"M1": "#0072BD", "M2": "#D95319", "M3": "#EDB120", "Macc": "#7E2F8E"}
NAMES = {
    "M1": "<i>M</i><sub>1</sub>",
    "M2": "<i>M</i><sub>2</sub>",
    "M3": "<i>M</i><sub>3</sub>",
    "Macc": "<i>M</i><sub>acc</sub>",
}

X_MAX = 1515.8

W, H = 1006, 886
FONT = "Liberation Serif"
TICK_SIZE = 31


def xs_for(series, offset=0.0):
    return [X_START + offset + X_STEP * i for i in range(len(series))]


fig = go.Figure()


def add_series(key, values, values_b, levels, axis_idx):
    xa = "x" if axis_idx == 1 else f"x{axis_idx}"
    ya = "y" if axis_idx == 1 else f"y{axis_idx}"
    xs = xs_for(values) + xs_for(values_b, X_OFFSET_B)
    ys = list(values) + list(values_b)
    fig.add_trace(go.Scatter(
        x=xs, y=ys, mode="markers", xaxis=xa, yaxis=ya,
        marker=dict(color=COLORS[key], size=5.5, line=dict(width=0)),
        showlegend=False, cliponaxis=False, hoverinfo="skip",
    ))
    x0, x1 = min(xs), max(xs)
    for lv in levels:
        fig.add_trace(go.Scatter(
            x=[x0, x1], y=[lv, lv], mode="lines", xaxis=xa, yaxis=ya,
            line=dict(color=COLORS[key], width=3.6),
            showlegend=False, hoverinfo="skip",
        ))


add_series("Macc", M_ACC, M_ACC_B, MACC_LEVELS, 1)
add_series("M1", M1, M1_B, M1_LEVELS, 2)
add_series("M2", M2, M2_B, M2_LEVELS, 2)
add_series("M3", M3, M3_B, M3_LEVELS, 3)

# Legend entries: line with a dot marker
for key in ["M1", "M2", "M3", "Macc"]:
    fig.add_trace(go.Scatter(
        x=[None], y=[None], mode="lines+markers", name=NAMES[key],
        line=dict(color=COLORS[key], width=1.5),
        marker=dict(color=COLORS[key], size=6),
    ))

x_dom = [85.7 / W, 1.0]
panels = [
    dict(dom=[1 - 265.3 / H, 1 - 81.7 / H], rng=[-0.2, 0.118], ticks=[-0.2, -0.1, 0, 0.1]),
    dict(dom=[1 - 536.0 / H, 1 - 352.0 / H], rng=[-1.19, 1.19], ticks=[-1, 0, 1]),
    dict(dom=[1 - 805.7 / H, 1 - 621.7 / H], rng=[0, 1.0], ticks=[0, 0.2, 0.4, 0.6, 0.8, 1]),
]

AXIS_LINE = "#2b2b2b"
GRID = "#d5d5d5"
TICK_COL = "#8a8a8a"

layout = dict(
    width=W, height=H, autosize=False,
    margin=dict(l=0, r=0, t=0, b=0, pad=0, autoexpand=False),
    paper_bgcolor="white", plot_bgcolor="white",
    font=dict(family=FONT, size=TICK_SIZE, color="black"),
    showlegend=True,
    legend=dict(
        orientation="h", x=573 / W, xanchor="center", y=1 - 14 / H, yanchor="top",
        bordercolor="#222222", borderwidth=1, bgcolor="white",
        font=dict(family=FONT, size=31), itemwidth=52, tracegroupgap=0,
    ),
)

for i, p in enumerate(panels, start=1):
    sx = "" if i == 1 else str(i)
    layout[f"xaxis{sx}"] = dict(
        domain=x_dom, range=[X_START, X_MAX], anchor=f"y{sx}", automargin=False,
        tick0=200, dtick=200,
        showgrid=True, gridcolor=GRID, gridwidth=1, zeroline=False,
        showline=True, linecolor=AXIS_LINE, linewidth=1.3, mirror="ticks",
        ticks="inside", ticklen=10, tickwidth=1.2, tickcolor=TICK_COL,
        minor=dict(tick0=100, dtick=100, showgrid=True, gridcolor=GRID, gridwidth=1,
                   ticks="inside", ticklen=10, tickwidth=1.2, tickcolor=TICK_COL),
        tickfont=dict(family=FONT, size=TICK_SIZE), ticklabelstandoff=-4,
    )
    layout[f"yaxis{sx}"] = dict(
        domain=p["dom"], range=p["rng"], anchor=f"x{sx}", automargin=False,
        tickvals=p["ticks"],
        showgrid=True, gridcolor=GRID, gridwidth=1, zeroline=False,
        showline=True, linecolor=AXIS_LINE, linewidth=1.3, mirror=False,
        ticks="inside", ticklen=10, tickwidth=1.2, tickcolor=TICK_COL,
        tickfont=dict(family=FONT, size=TICK_SIZE), ticklabelstandoff=6,
    )

fig.update_layout(**layout)

annotations = [
    dict(text="·10<sup>−2</sup>", x=95 / W, y=1 - 352 / H, xanchor="left", yanchor="bottom"),
    dict(text="·10<sup>−4</sup>", x=95 / W, y=1 - 621.7 / H, xanchor="left", yanchor="bottom"),
    dict(text="# molecules", x=550 / W, y=0, xanchor="center", yanchor="bottom"),
]
for a in annotations:
    fig.add_annotation(xref="paper", yref="paper", showarrow=False,
                       font=dict(family=FONT, size=TICK_SIZE, color="black"), **a)

fig.write_html("out.html")
